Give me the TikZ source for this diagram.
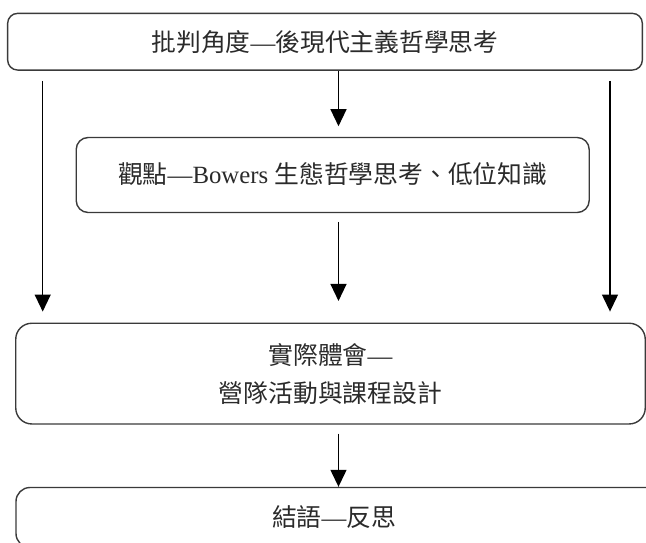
\documentclass[tikz,border=0pt]{standalone}
\usepackage{fontspec}
\setmainfont{Liberation Serif}
\newfontfamily\cjk{Noto Sans CJK TC}
\usetikzlibrary{arrows.meta}
\definecolor{boxline}{HTML}{3A3A3A}
\definecolor{txt}{HTML}{2A2A2A}
\tikzset{
  box/.style={draw=boxline, line width=1.4pt, fill=none, inner sep=0pt,
    text=txt, font=\fontsize{24.8pt}{38pt}\selectfont, align=center},
  arr/.style={draw=black, line width=1.3pt, -{Triangle[length=17pt,width=16pt]}}
}
\begin{document}
\begin{tikzpicture}[x=1pt,y=1pt]
\useasboundingbox (0,0) rectangle (646,-542);
\clip (0,0) rectangle (646,-542);
\node[box, rounded corners=10pt, minimum width=634.7pt, minimum height=56.7pt] (b1) at (325,-41.7) {{\cjk 批判角度}—{\cjk 後現代主義哲學思考}};
\node[box, rounded corners=12pt, minimum width=513pt, minimum height=75pt] (b2) at (332.7,-175) {\raisebox{4pt}{{\cjk 觀點}—Bowers {\cjk 生態哲學思考、低位知識}}};
\node[box, rounded corners=16pt, minimum width=629.5pt, minimum height=100.7pt] (b3) at (330.5,-373.6) {{\cjk 實際體會}—\\\cjk 營隊活動與課程設計};
\node[box, rounded corners=14pt, minimum width=664pt, minimum height=60pt] (b4) at (348,-517.5) {\hspace*{-28pt}{\cjk 結語}—{\cjk 反思}};
\coordinate (xl) at (42.7,0);
\coordinate (xa) at (338.5,0);
\coordinate (xr) at (610,0);
\draw[arr, shorten >=10.6pt] (b1.south -| xa) -- (b2.north -| xa);
\draw[arr, shorten <=10pt, shorten >=11pt] (b1.south -| xl) -- (b3.north -| xl);
\draw[arr, shorten <=10pt, shorten >=11pt] (b1.south -| xr) -- (b3.north -| xr);
\draw[arr, shorten <=8.7pt, shorten >=21.6pt] (b2.south -| xa) -- (b3.north -| xa);
\draw[arr, shorten <=9pt] (b3.south -| xa) -- (b4.north -| xa);
\end{tikzpicture}
\end{document}
